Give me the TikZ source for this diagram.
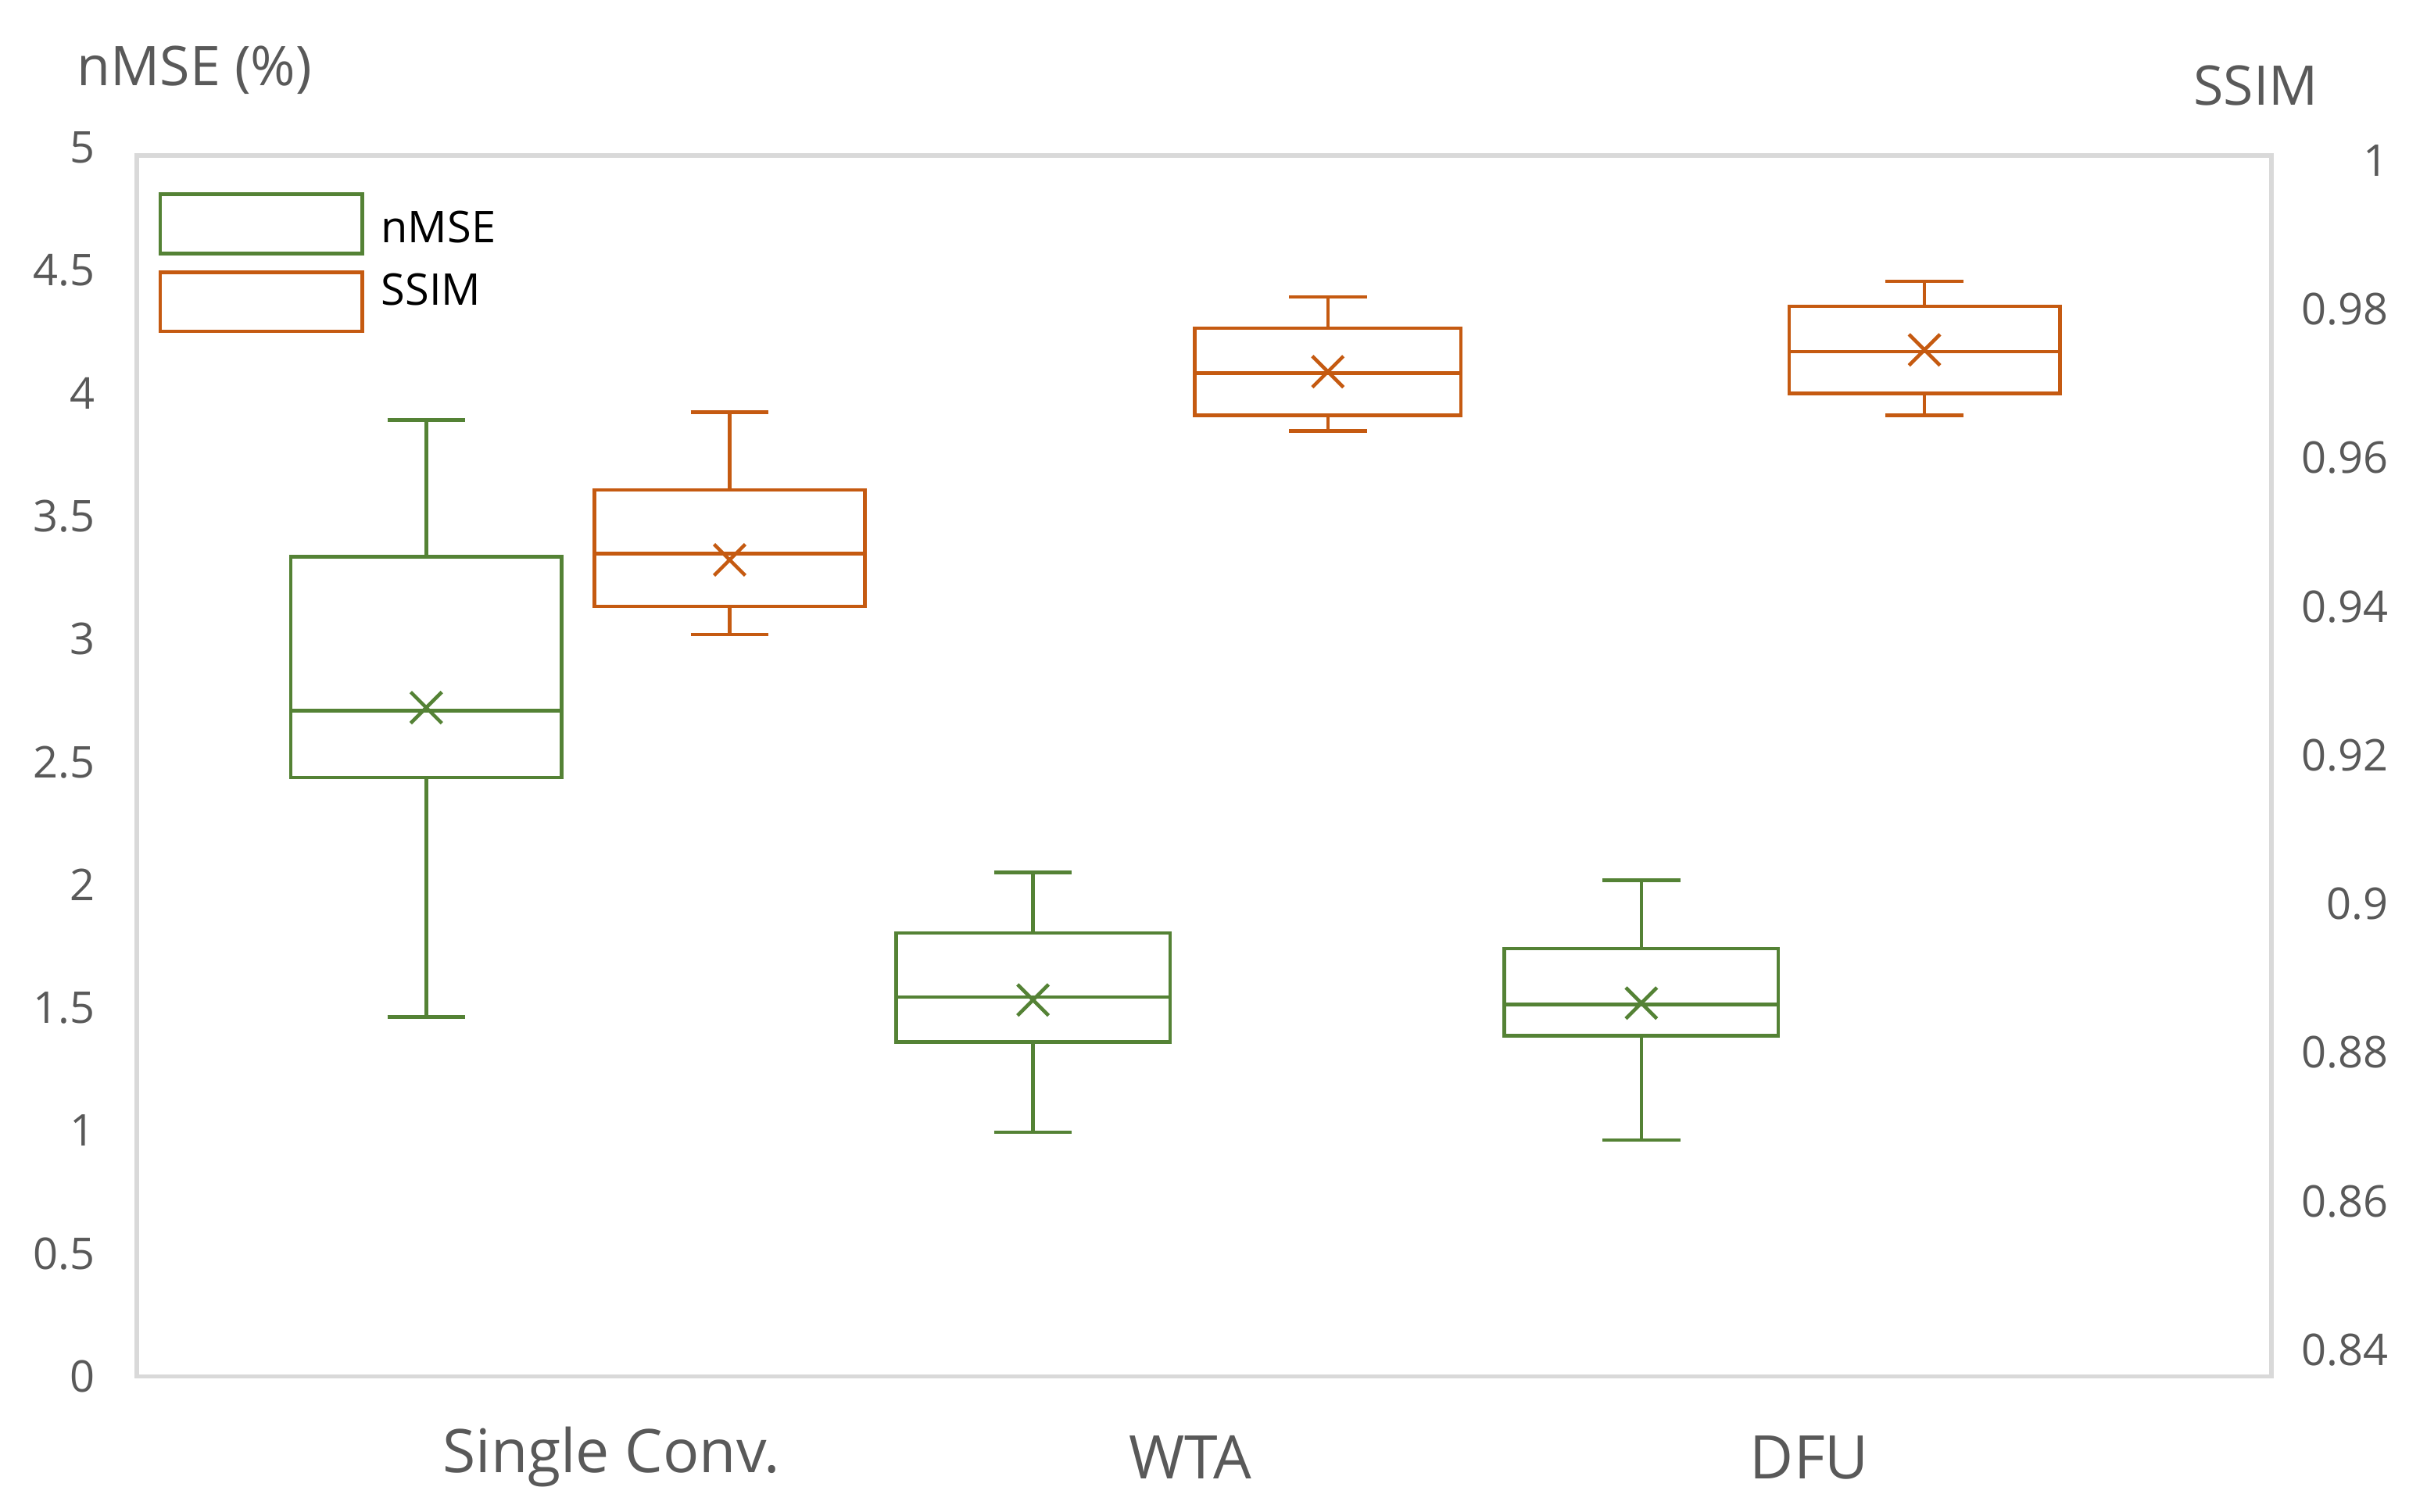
\documentclass[tikz,border=0pt]{standalone}
\usepackage{fontspec}
\setmainfont{Open Sans}
\definecolor{gr}{HTML}{548235}
\definecolor{og}{HTML}{C55A11}
\definecolor{tx}{HTML}{595959}
\newcommand{\mybox}[9]{%
% #1 color, #2 xl, #3 xr, #4 wtop, #5 wbot, #6 btop, #7 bbot, #8 med, #9 mean
\pgfmathsetmacro{\xc}{(#2+#3)/2}
\draw[#1] (#2,972-#6) rectangle (#3,972-#7);
\draw[#1] (#2,972-#8) -- (#3,972-#8);
\draw[#1] (\xc,972-#6) -- (\xc,972-#4) (\xc-25,972-#4) -- (\xc+25,972-#4);
\draw[#1] (\xc,972-#7) -- (\xc,972-#5) (\xc-25,972-#5) -- (\xc+25,972-#5);
\draw[#1] (\xc-10,972-#9-10) -- (\xc+10,972-#9+10) (\xc-10,972-#9+10) -- (\xc+10,972-#9-10);
}
\begin{document}
\begin{tikzpicture}[x=0.02cm,y=0.02cm,line width=1.3pt,
 tick/.style={text=tx,font=\fontsize{16}{18}\selectfont},
 cat/.style={text=tx,font=\fontsize{22}{24}\selectfont},
 leg/.style={text=black,font=\fontsize{16}{18}\selectfont,anchor=west}]
\useasboundingbox (0,0) rectangle (1560,972);
\draw[color=black!15,line width=1.6pt] (88,972-100) rectangle (1460,972-885);
\foreach \v/\l in {0/0,0.5/0.5,1/1,1.5/1.5,2/2,2.5/2.5,3/3,3.5/3.5,4/4,4.5/4.5,5/5}
  \node[tick,anchor=east] (l\l) at (68,972-885+158*\v) {\l};
\foreach \i/\l in {0/0.84,1/0.86,2/0.88,3/0.9,4/0.92,5/0.94,6/0.96,7/0.98,8/1}
  \node[tick,anchor=east] (r\i) at (1542,972-868+95.6*\i) {\l};
\node[cat,font=\fontsize{20}{22}\selectfont] (t1) at (125,972-45) {nMSE (\%)};
\node[cat,font=\fontsize{20}{22}\selectfont] (t2) at (1450,972-55) {SSIM};
\node[cat] (c1) at (393,972-937) {Single Conv.};
\node[cat] (c2) at (765,972-937) {WTA};
\node[cat] (c3) at (1163,972-937) {DFU};
\draw[gr] (103,972-125) rectangle (233,972-163);
\draw[og] (103,972-175) rectangle (233,972-213);
\node[leg] (g1) at (238,972-146) {nMSE};
\node[leg] (g2) at (238,972-186) {SSIM};
\mybox{gr}{187}{361}{270}{654}{358}{500}{457}{455}
\mybox{gr}{576}{752}{561}{728}{600}{670}{641}{643}
\mybox{gr}{967}{1143}{566}{733}{610}{666}{646}{645}
\mybox{og}{382}{556}{265}{408}{315}{390}{356}{360}
\mybox{og}{768}{939}{191}{277}{211}{267}{240}{239}
\mybox{og}{1150}{1324}{181}{267}{197}{253}{226}{225}
\end{tikzpicture}
\end{document}
